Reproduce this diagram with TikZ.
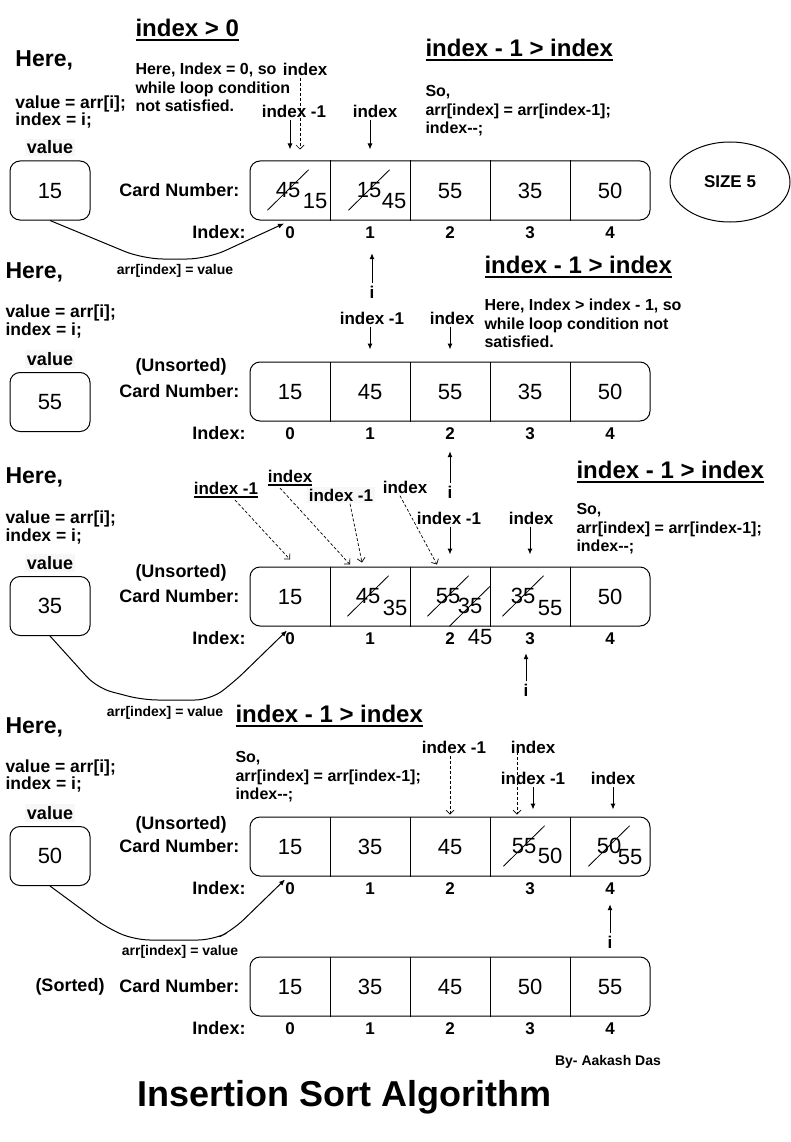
\documentclass[tikz,border=0pt]{standalone}
\usepackage{fontspec}
\setmainfont{Liberation Sans}
\usetikzlibrary{calc,arrows.meta,shapes.geometric,shapes.misc,positioning}

\newsavebox{\ulbox}
\newcommand{\undl}[1]{\sbox{\ulbox}{#1}\rlap{\rule[-0.16em]{\wd\ulbox}{0.08em}}\usebox{\ulbox}}

\begin{document}
\begin{tikzpicture}[x=1pt, y=-1pt, line width=1pt, >={Latex[length=6pt,width=5pt]}]

	\tikzstyle{arrbox} = [draw, rounded corners=10pt, minimum width=400pt, minimum height=59pt]
	\tikzstyle{arrcell} = [minimum width=80pt, minimum height=59pt, inner sep=0pt, text height=15.8pt, text depth=0pt, font=\fontsize{22}{26}\selectfont]
	\tikzstyle{valbox} = [arrcell, draw, rounded corners=10pt]
	\tikzstyle{num} = [inner sep=0pt, text height=15.8pt, text depth=0pt, font=\fontsize{22}{26}\selectfont]
	\tikzstyle{struck} = [num, strike out, draw, line width=0.8pt, inner xsep=8pt, inner ysep=12pt]
	\tikzstyle{idx} = [inner sep=0pt, text height=12.2pt, text depth=0pt, font=\fontsize{17}{20}\selectfont\bfseries]
	\tikzstyle{lbl} = [inner sep=1pt, font=\fontsize{18}{21}\selectfont\bfseries]
	\tikzstyle{ptrlbl} = [inner sep=2pt, font=\fontsize{17}{20}\selectfont\bfseries]
	\tikzstyle{here} = [anchor=west, inner sep=0pt, font=\fontsize{23}{27}\selectfont\bfseries]
	\tikzstyle{code} = [anchor=west, inner sep=0pt, align=left, font=\fontsize{17.5}{17.5}\selectfont\bfseries]
	\tikzstyle{note} = [anchor=west, inner sep=0pt, align=left, font=\fontsize{16}{18.5}\selectfont\bfseries]
	\tikzstyle{cond} = [anchor=west, inner sep=0pt, font=\fontsize{24}{28}\selectfont\bfseries]
	\tikzstyle{edgetxt} = [inner sep=0pt, font=\fontsize{14}{16}\selectfont\bfseries]
	\tikzstyle{ptr} = [->]
	\tikzstyle{dptr} = [-{Straight Barb[length=4pt,width=8pt]}, dash pattern=on 3pt off 2pt, line width=0.7pt]

	\path[use as bounding box, fill=white] (0,0) rectangle (791,1142);

	% the five arrays
	\foreach \r/\y in {1/190.5, 2/391.5, 3/596.5, 4/846.5, 5/986.5} {
		\node[arrbox] (arr\r) at (450,\y) {};
		\foreach \k in {0,...,4} {
			\node[arrcell] (c\r\k) at ({290+80*\k},\y) {};
			\node[idx, below=5.5pt of c\r\k] (n\r\k) {\k};
		}
		\foreach \k in {0,...,3} \draw (c\r\k.north east) -- (c\r\k.south east);
		\node[lbl, anchor=east] (cn\r) at (241,\y) {Card Number:};
		\node[lbl, anchor=east] (il\r) at (247,\y+41.5) {Index:};
	}

	% cell values
	\foreach \k/\v in {2/55,3/35,4/50} \node[num] (d1\k) at (c1\k) {\v};
	\foreach \k/\v in {0/15,1/45,2/55,3/35,4/50} \node[num] (d2\k) at (c2\k) {\v};
	\foreach \k/\v in {0/15,4/50} \node[num] (d3\k) at (c3\k) {\v};
	\foreach \k/\v in {0/15,1/35,2/45} \node[num] (d4\k) at (c4\k) {\v};
	\foreach \k/\v in {0/15,1/35,2/45,3/50,4/55} \node[num] (d5\k) at (c5\k) {\v};

	\node[struck] (s10) at (288,190) {45};
	\node[num] (u10) at (315,201) {15};
	\node[struck] (s11) at (369,190) {15};
	\node[num] (u11) at (394,201) {45};

	\node[struck] (s31) at (368,596) {45};
	\node[num] (u31) at (395,608) {35};
	\node[struck] (s32) at (448,596) {55};
	\node[struck] (u32) at (470,606) {35};
	\node[num] (x45) at (480,637) {45};
	\node[struck] (s33) at (523,596) {35};
	\node[num] (u33) at (550,608) {55};

	\node[struck] (s43) at (524,846) {55};
	\node[num] (u43) at (550,856) {50};
	\node[struck] (s44) at (609,846) {50};
	\node[num] (u44) at (630,857) {55};

	% value boxes
	\node[valbox] (v1) at (50,190.5) {15};
	\node[valbox] (v2) at (50,402) {55};
	\node[valbox] (v3) at (50,606) {35};
	\node[valbox] (v4) at (50,856) {50};
	\node[lbl, fill=black!3, inner sep=2pt, above=4pt of v1] (w1) {value};
	\node[lbl, fill=black!3, inner sep=2pt, above=4pt of v2] (w2) {value};
	\node[lbl, fill=black!3, inner sep=2pt, above=4pt of v3] (w3) {value};
	\node[lbl, fill=black!3, inner sep=2pt, above=4pt of v4] (w4) {value};

	\node[here] (h1) at (15,60) {Here,};
	\node[here] (h2) at (5,272) {Here,};
	\node[here] (h3) at (5,477) {Here,};
	\node[here] (h4) at (5,727) {Here,};
	\node[code] (k1) at (15,112) {value = arr[i];\\index = i;};
	\node[code] (k2) at (5,321.5) {value = arr[i];\\index = i;};
	\node[code] (k3) at (5,527.5) {value = arr[i];\\index = i;};
	\node[code] (k4) at (5,776) {value = arr[i];\\index = i;};

	\node[lbl] (us2) at (181,367) {(Unsorted)};
	\node[lbl] (us3) at (181,573) {(Unsorted)};
	\node[lbl] (us4) at (181,825) {(Unsorted)};
	\node[lbl] (so5) at (70,987) {(Sorted)};

	% conditions and notes
	\node[cond] (t1) at (135,30) {\undl{index > 0}};
	\node[cond] (t2) at (425,50) {\undl{index - 1 > index}};
	\node[cond] (t3) at (484,267) {\undl{index - 1 > index}};
	\node[cond] (t4) at (576,472) {\undl{index - 1 > index}};
	\node[cond] (t5) at (235,716) {\undl{index - 1 > index}};
	\node[note] (m1) at (135,87.5) {Here, Index = 0, so\\while loop condition\\not satisfied.};
	\node[note] (m2) at (425,111) {So,\\arr[index] = arr[index-1];\\index-{}-;};
	\node[note] (m3) at (484,323.5) {Here, Index > index - 1, so\\while loop condition not\\satisfied.};
	\node[note] (m4) at (576,529) {So,\\arr[index] = arr[index-1];\\index-{}-;};
	\node[note] (m5) at (235,777) {So,\\arr[index] = arr[index-1];\\index-{}-;};

	\node[draw, ellipse, minimum width=120pt, minimum height=80pt, font=\fontsize{17}{20}\selectfont\bfseries] (sz) at (730,182) {SIZE 5};

	% pointers row 1
	\node[ptrlbl] (p1d) at (305,69) {index};
	\node[ptrlbl] (p1a) at (294,111) {index -1};
	\node[ptrlbl] (p1b) at (375,111) {index};
	\draw[ptr] (c10.north |- p1a.south) -- ($(c10.north)+(0,-11)$);
	\draw[dptr] ($(p1d.south)+(-5,0)$) -- ($(c10.north)+(10,-11)$);
	\draw[ptr] (c11.north |- p1b.south) -- ($(c11.north)+(0,-11)$);

	% pointers row 2
	\node[ptrlbl] (q2) at (372,292) {i};
	\draw[ptr] (q2.north) -- ($(n11.south)+(2,14)$);
	\node[ptrlbl] (p2a) at (372,318) {index -1};
	\node[ptrlbl] (p2b) at (452,318) {index};
	\draw[ptr] (c21.north |- p2a.south) -- ($(c21.north)+(0,-12)$);
	\draw[ptr] (c22.north |- p2b.south) -- ($(c22.north)+(0,-12)$);

	% pointers row 3
	\node[ptrlbl] (q3) at (450,492) {i};
	\draw[ptr] (q3.north) -- ($(n22.south)+(0,11)$);
	\node[ptrlbl] (p3a) at (449,518) {index -1};
	\node[ptrlbl] (p3b) at (531,518) {index};
	\draw[ptr] (c32.north |- p3a.south) -- ($(c32.north)+(0,-12)$);
	\draw[ptr] (c33.north |- p3b.south) -- ($(c33.north)+(0,-12)$);
	\node[ptrlbl] (p3c) at (226,490) {\undl{index -1}};
	\node[ptrlbl] (p3d) at (290,478) {\undl{index}};
	\node[ptrlbl, fill=black!3] (p3e) at (341,495) {index -1};
	\node[ptrlbl] (p3f) at (405,487) {index};
	\draw[dptr] ($(p3c.south)+(9,0)$) -- ($(c30.north)+(0,-7)$);
	\draw[dptr] ($(p3d.south)+(-10,0)$) -- ($(c31.north)+(-20,-2)$);
	\draw[dptr] ($(p3e.south)+(9,0)$) -- ($(c31.north)+(-8,-4)$);
	\draw[dptr] ($(p3f.south)+(-5,0)$) -- ($(c32.north)+(-13,-2)$);
	\node[ptrlbl] (q3b) at (526,690) {i};
	\draw[ptr] (q3b.north) -- ($(n33.south)+(-4,8)$);

	% pointers row 4
	\node[ptrlbl] (p4a) at (454,747) {index -1};
	\node[ptrlbl] (p4b) at (533,747) {index};
	\node[ptrlbl] (p4c) at (533,778) {index -1};
	\node[ptrlbl] (p4d) at (613,778) {index};
	\draw[dptr] (c42.north |- p4a.south) -- ($(c42.north)+(0,-2)$);
	\draw[dptr] ($(p4b.center)+(-16,0)$) -- ($(c43.north)+(-13,-2)$);
	\draw[ptr, shorten >=7pt] (p4c.south) -- (p4c.south |- c43.north);
	\draw[ptr, shorten >=7pt] (p4d.south) -- (p4d.south |- c44.north);
	\node[ptrlbl] (q4) at (610,942) {i};
	\draw[ptr] (q4.north) -- ($(n44.south)+(0,9)$);

	% value goes back into the array
	\node[edgetxt] (a1) at (175,271) {arr[index] = value};
	\node[edgetxt] (a3) at (165,713) {arr[index] = value};
	\node[edgetxt] (a4) at (180,952) {arr[index] = value};
	\draw[ptr, rounded corners=20pt] (v1.south) -- (143,259) -- (207,259) -- ($(c10.south)+(-6,3)$);
	\draw[ptr, rounded corners=15pt] (v3.south) -- (97,688) -- (143,700) -- (210,700) -- (233,683) -- ($(c30.south)+(-3,4)$);
	\draw[ptr, rounded corners=15pt] (v4.south) -- (107,928) -- (135,940) -- (213,940) -- (233,930) -- ($(c40.south)+(-5,3)$);

	\node[edgetxt] (by) at (608,1062) {By- Aakash Das};
	\node[inner sep=0pt, font=\fontsize{36}{40}\selectfont\bfseries] (ttl) at (344.5,1097) {Insertion Sort Algorithm};

\end{tikzpicture}
\end{document}
